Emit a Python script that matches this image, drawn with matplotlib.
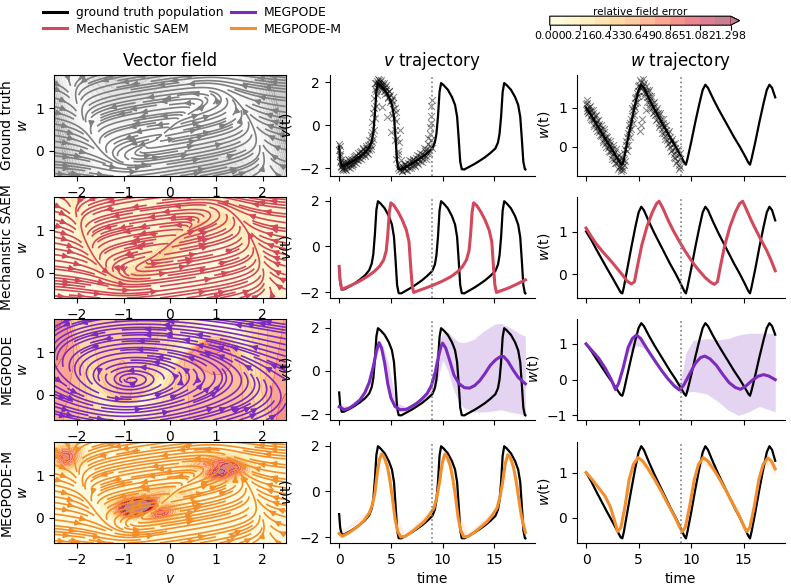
import numpy as np
import matplotlib
matplotlib.use('Agg')
from matplotlib import pyplot as plt
from matplotlib.lines import Line2D

# ---------------- values ----------------
# ground truth population trajectory
t_gt_v = [0.0, 0.1, 0.25, 0.5, 1.0, 1.5, 2.0, 2.5, 2.9, 3.15, 3.3, 3.45, 3.6, 3.75,
          4.0, 4.4, 4.8, 5.1, 5.3, 5.45, 5.6, 5.75, 6.0, 6.5, 7.0, 7.5, 8.0, 8.5,
          9.0, 9.25, 9.4, 9.55, 9.7, 9.85, 10.1, 10.5, 10.9, 11.2, 11.4, 11.55,
          11.7, 11.85, 12.1, 12.6, 13.1, 13.6, 14.1, 14.6, 15.1, 15.35, 15.5,
          15.65, 15.8, 15.95, 16.2, 16.6, 17.0, 17.3, 17.5, 17.65, 17.8, 17.95, 18.0]
gt_v = [-1.00, -1.60, -1.90, -1.88, -1.76, -1.62, -1.46, -1.27, -1.05, -0.75, -0.35,
        0.50, 1.60, 1.97, 1.87, 1.66, 1.32, 0.95, 0.40, -0.60, -1.70, -2.05, -2.06,
        -1.93, -1.80, -1.65, -1.49, -1.30, -1.08, -0.80, -0.40, 0.40, 1.55, 1.97,
        1.87, 1.66, 1.32, 0.95, 0.40, -0.60, -1.70, -2.05, -2.06, -1.93, -1.80,
        -1.65, -1.49, -1.30, -1.08, -0.80, -0.40, 0.40, 1.55, 1.97, 1.87, 1.66,
        1.32, 0.95, 0.40, -0.60, -1.70, -2.05, -2.06]
t_gt_w = [0.0, 0.5, 1.0, 1.5, 2.0, 2.5, 3.0, 3.3, 3.45, 3.6, 3.9, 4.3, 4.7, 5.0, 5.25,
          5.5, 6.0, 6.5, 7.0, 7.5, 8.0, 8.5, 9.0, 9.35, 9.5, 9.65, 10.0, 10.4, 10.8,
          11.1, 11.35, 11.6, 12.1, 12.6, 13.1, 13.6, 14.1, 14.6, 15.1, 15.45, 15.6,
          15.75, 16.1, 16.5, 16.9, 17.2, 17.45, 17.7, 18.0]
gt_w = [1.00, 0.80, 0.57, 0.35, 0.13, -0.08, -0.30, -0.43, -0.45, -0.30, 0.10, 0.62,
        1.12, 1.45, 1.58, 1.50, 1.22, 0.96, 0.72, 0.48, 0.24, 0.02, -0.22, -0.40,
        -0.45, -0.30, 0.12, 0.64, 1.12, 1.45, 1.58, 1.50, 1.22, 0.96, 0.72, 0.48,
        0.24, 0.02, -0.22, -0.40, -0.45, -0.30, 0.12, 0.64, 1.12, 1.45, 1.58, 1.50, 1.26]

# noisy observations of the population (t <= 9), two batches
obs_v_t = [0.00, 0.03, 0.06, 0.09, 0.12, 0.16, 0.20, 0.24, 0.28, 0.33, 0.38, 0.44,
           0.50, 0.57, 0.63, 0.70, 0.76, 0.83, 0.90, 0.97, 1.04, 1.11, 1.18, 1.25,
           1.33, 1.40, 1.48, 1.55, 1.63, 1.70, 1.78, 1.86, 1.93, 2.01, 2.09, 2.17,
           2.25, 2.33, 2.41, 2.49, 2.57, 2.65, 2.73, 2.81, 2.89, 2.96, 3.03, 3.08,
           3.13, 3.18, 3.23, 3.28, 3.33, 3.38, 3.43, 3.48, 3.53, 3.58, 3.63, 3.68,
           3.73, 3.79, 3.85, 3.91, 3.97, 4.04, 4.11, 4.18, 4.25, 4.32, 4.39, 4.46,
           4.53, 4.60, 4.67, 4.74, 4.81, 4.88, 4.95, 5.02, 5.09, 5.16, 5.23, 5.30,
           5.36, 5.42, 5.48, 5.54, 5.60, 5.66, 5.72, 5.78, 5.84, 5.90, 5.97, 6.04,
           6.12, 6.20, 6.28, 6.37, 6.46, 6.55, 6.64, 6.73, 6.82, 6.91, 7.00, 7.09,
           7.18, 7.27, 7.36, 7.45, 7.54, 7.63, 7.72, 7.81, 7.90, 7.99, 8.08, 8.17,
           8.26, 8.35, 8.44, 8.52, 8.60, 8.67, 8.74, 8.80, 8.86, 8.92, 8.97]
obs_v = [-0.85, -1.15, -0.95, -1.45, -1.70, -1.60, -1.95, -1.78, -2.05, -1.85, -1.98,
         -1.72, -1.93, -2.02, -1.76, -1.88, -1.69, -1.95, -1.78, -1.62, -1.86, -1.71,
         -1.58, -1.80, -1.63, -1.49, -1.72, -1.55, -1.38, -1.61, -1.47, -1.30, -1.52,
         -1.40, -1.22, -1.44, -1.30, -1.12, -1.36, -1.18, -1.05, -1.28, -1.08, -0.92,
         -1.15, -0.85, -0.98, -0.45, -0.80, 0.15, -0.62, 0.55, -0.20, 1.25, 0.35,
         1.70, 0.90, 1.95, 1.40, 2.08, 1.85, 1.98, 2.10, 1.82, 2.02, 1.75, 1.95,
         0.85, 1.88, 1.62, 1.80, 1.45, 1.70, 0.40, 1.52, 1.30, 1.58, 1.10, 1.40,
         -0.30, 1.18, 0.75, 1.05, 0.35, 0.80, -0.70, 0.20, -1.55, -0.60, -2.00,
         -1.20, -2.10, -1.90, -0.20, -2.05, -1.88, -2.12, -1.95, -2.03, -1.82, -2.08,
         -1.90, -1.75, -1.98, -1.80, -1.68, -1.90, -1.72, -1.60, -1.83, -1.65, -1.52,
         -1.74, -1.58, -1.42, -1.66, -1.47, -1.33, -1.55, -1.38, -1.20, -1.45, -1.10,
         -1.28, -0.85, -1.15, -0.40, -0.95, 0.45, -0.70, 1.20]
obs_v_t2 = [0.05, 0.15, 0.35, 0.55, 0.65, 0.85, 1.00, 1.20, 1.38, 1.52, 1.67, 1.82,
            1.97, 2.13, 2.29, 2.45, 2.61, 2.77, 2.93, 3.10, 3.20, 3.35, 3.45, 3.55,
            3.65, 3.75, 3.88, 4.00, 4.15, 4.30, 4.45, 4.55, 4.70, 4.85, 5.00, 5.12,
            5.25, 5.40, 5.52, 5.65, 5.80, 5.95, 6.08, 6.25, 6.42, 6.60, 6.78, 6.95,
            7.12, 7.30, 7.48, 7.66, 7.84, 8.02, 8.20, 8.38, 8.55, 8.70, 8.78, 8.83,
            8.90, 8.95]
obs_v2 = [-1.35, -1.90, -2.10, -1.80, -2.08, -1.58, -2.00, -1.92, -1.80, -1.42, -1.75,
          -1.62, -1.25, -1.58, -1.05, -1.45, -0.95, -1.35, -0.70, -1.10, -0.30, 0.80,
          1.95, 1.60, 1.75, 2.15, 1.92, 2.12, 1.68, 1.95, 1.58, 1.90, 1.25, 1.62,
          1.20, 0.50, 1.30, -0.20, 0.60, -1.35, -0.80, -1.60, -2.15, -1.80, -1.92,
          -2.10, -1.62, -1.98, -1.55, -1.92, -1.40, -1.82, -1.28, -1.70, -1.05, -1.55,
          -0.60, -1.30, -0.10, 0.10, 0.90, -1.05]
obs_w_t = [0.00, 0.04, 0.08, 0.13, 0.18, 0.24, 0.30, 0.36, 0.43, 0.50, 0.57, 0.64,
           0.71, 0.78, 0.85, 0.92, 0.99, 1.06, 1.13, 1.20, 1.27, 1.34, 1.41, 1.48,
           1.55, 1.62, 1.69, 1.76, 1.83, 1.90, 1.97, 2.04, 2.11, 2.18, 2.25, 2.32,
           2.39, 2.46, 2.53, 2.60, 2.67, 2.74, 2.81, 2.88, 2.95, 3.02, 3.09, 3.16,
           3.23, 3.30, 3.37, 3.44, 3.51, 3.58, 3.65, 3.72, 3.79, 3.86, 3.93, 4.00,
           4.07, 4.14, 4.21, 4.28, 4.35, 4.42, 4.49, 4.56, 4.63, 4.70, 4.77, 4.84,
           4.91, 4.98, 5.05, 5.12, 5.19, 5.26, 5.33, 5.40, 5.47, 5.54, 5.61, 5.68,
           5.75, 5.82, 5.89, 5.96, 6.03, 6.10, 6.18, 6.26, 6.34, 6.42, 6.50, 6.58,
           6.66, 6.74, 6.82, 6.90, 6.98, 7.06, 7.14, 7.22, 7.30, 7.38, 7.46, 7.54,
           7.62, 7.70, 7.78, 7.86, 7.94, 8.02, 8.10, 8.18, 8.26, 8.34, 8.42, 8.50,
           8.58, 8.66, 8.74, 8.82, 8.90, 8.97]
obs_w = [1.08, 0.92, 1.12, 0.98, 0.85, 1.02, 0.90, 0.76, 0.95, 0.82, 0.68, 0.86,
         0.72, 0.58, 0.78, 0.62, 0.48, 0.66, 0.52, 0.38, 0.58, 0.44, 0.28, 0.47,
         0.33, 0.18, 0.38, 0.22, 0.08, 0.27, 0.12, -0.02, 0.18, 0.03, -0.12, 0.08,
         -0.08, -0.22, -0.02, -0.18, -0.32, -0.12, -0.28, -0.42, -0.22, -0.38, -0.52,
         -0.30, -0.48, -0.55, -0.38, -0.50, -0.32, -0.45, -0.15, -0.35, 0.05, -0.10,
         0.25, 0.05, 0.42, 0.25, 0.60, 0.45, 0.78, 0.62, 0.95, 0.80, 1.12, 0.98,
         1.28, 1.15, 1.42, 1.30, 1.58, 0.40, 1.50, 1.65, 0.70, 1.55, 1.42, 1.62,
         1.38, 0.95, 1.45, 1.28, 1.40, 1.15, 1.30, 1.08, 1.25, 1.00, 1.12, 0.90,
         1.05, 0.80, 0.95, 0.70, 0.85, 0.62, 0.80, 0.55, 0.70, 0.45, 0.60, 0.36,
         0.52, 0.28, 0.44, 0.18, 0.35, 0.10, 0.25, 0.00, 0.16, -0.08, 0.08, -0.18,
         -0.02, -0.28, -0.10, -0.35, -0.20, -0.45, -0.30, -0.50]
obs_w_t2 = [0.06, 0.20, 0.34, 0.48, 0.62, 0.76, 0.90, 1.04, 1.18, 1.32, 1.46, 1.60,
            1.74, 1.88, 2.02, 2.16, 2.30, 2.44, 2.58, 2.72, 2.86, 3.00, 3.14, 3.28,
            3.42, 3.56, 3.70, 3.84, 3.98, 4.12, 4.26, 4.40, 4.54, 4.68, 4.82, 4.96,
            5.10, 5.24, 5.38, 5.52, 5.66, 5.80, 5.94, 6.08, 6.22, 6.36, 6.50, 6.64,
            6.78, 6.92, 7.06, 7.20, 7.34, 7.48, 7.62, 7.76, 7.90, 8.04, 8.18, 8.32,
            8.46, 8.60, 8.74, 8.88, 8.96]
obs_w2 = [1.18, 0.95, 1.05, 0.70, 0.95, 0.52, 0.80, 0.40, 0.68, 0.30, 0.55, 0.12,
          0.45, 0.00, 0.25, -0.10, 0.15, -0.30, 0.05, -0.40, -0.05, -0.55, -0.20,
          -0.62, -0.28, -0.58, -0.05, 0.15, 0.35, 0.55, 0.72, 1.00, 1.05, 1.25, 1.38,
          1.55, 1.70, 0.55, 1.72, 1.30, 1.55, 1.15, 1.45, 0.98, 1.30, 0.85, 1.15,
          0.68, 1.00, 0.50, 0.85, 0.35, 0.70, 0.20, 0.55, 0.08, 0.40, -0.10, 0.20,
          -0.25, 0.10, -0.40, -0.05, -0.55, -0.15]

# Mechanistic SAEM
t_saem_v = [0.0, 0.1, 0.25, 0.6, 1.2, 2.0, 2.8, 3.4, 3.9, 4.3, 4.55, 4.7, 4.85, 5.0,
            5.3, 5.7, 6.1, 6.5, 6.75, 6.9, 7.05, 7.2, 7.6, 8.4, 9.2, 10.0, 10.8,
            11.4, 11.9, 12.3, 12.55, 12.7, 12.85, 13.0, 13.3, 13.7, 14.1, 14.5,
            14.75, 14.9, 15.05, 15.2, 15.6, 16.4, 17.2, 18.0]
saem_v = [-0.88, -1.50, -1.88, -1.82, -1.70, -1.52, -1.30, -1.10, -0.88, -0.60,
          -0.20, 0.50, 1.50, 1.90, 1.78, 1.50, 1.15, 0.70, 0.20, -0.80, -1.70,
          -2.02, -1.95, -1.82, -1.68, -1.52, -1.33, -1.13, -0.90, -0.60, -0.20,
          0.50, 1.50, 1.90, 1.78, 1.50, 1.15, 0.70, 0.20, -0.80, -1.70, -2.02,
          -1.95, -1.82, -1.65, -1.47]
t_saem_w = [0.0, 0.5, 1.0, 1.5, 2.0, 2.5, 3.0, 3.5, 3.9, 4.3, 4.6, 4.9, 5.3, 5.8,
            6.3, 6.7, 6.95, 7.3, 7.8, 8.3, 8.8, 9.3, 9.8, 10.3, 10.8, 11.3, 11.8,
            12.2, 12.5, 12.8, 13.2, 13.7, 14.2, 14.6, 14.9, 15.2, 15.7, 16.2, 16.7,
            17.2, 17.6, 18.0]
saem_w = [1.08, 0.88, 0.70, 0.55, 0.41, 0.27, 0.12, -0.03, -0.16, -0.23, -0.18,
          0.20, 0.68, 1.12, 1.45, 1.65, 1.71, 1.55, 1.27, 1.02, 0.80, 0.59, 0.40,
          0.22, 0.07, -0.07, -0.18, -0.24, -0.18, 0.20, 0.68, 1.12, 1.45, 1.65,
          1.71, 1.55, 1.27, 1.02, 0.78, 0.55, 0.33, 0.08]

# MEGPODE
t_meg_v = [0.0, 0.5, 1.0, 1.5, 2.0, 2.5, 2.9, 3.3, 3.6, 3.85, 4.1, 4.4, 4.7, 5.0,
           5.4, 5.9, 6.5, 7.0, 7.5, 8.0, 8.5, 8.9, 9.3, 9.6, 9.85, 10.0, 10.3,
           10.7, 11.1, 11.6, 12.1, 12.6, 13.1, 13.6, 14.1, 14.6, 15.1, 15.6, 15.9,
           16.3, 16.8, 17.3, 17.7, 18.0]
meg_v = [-1.66, -1.80, -1.72, -1.55, -1.35, -1.00, -0.55, 0.20, 0.90, 1.30, 1.05,
         0.35, -0.60, -1.25, -1.65, -1.80, -1.78, -1.65, -1.50, -1.30, -1.05, -0.70,
         -0.05, 0.65, 1.15, 1.28, 1.05, 0.45, -0.20, -0.60, -0.78, -0.80, -0.68,
         -0.45, -0.12, 0.25, 0.50, 0.66, 0.66, 0.45, 0.05, -0.30, -0.48, -0.60]
t_meg_v_band = [0.0, 1.0, 2.0, 3.0, 3.6, 3.9, 4.3, 4.8, 5.5, 6.5, 7.5, 8.5, 9.0, 9.5,
                10.0, 10.5, 11.0, 11.5, 12.0, 13.0, 14.0, 15.0, 15.6, 16.5, 17.5, 18.0]
meg_v_lo = [-1.75, -1.82, -1.48, -0.60, 0.65, 1.10, 0.40, -0.90, -1.85, -1.88, -1.62,
            -1.25, -1.00, -0.50, 0.50, 0.00, -0.80, -1.35, -1.70, -1.90, -1.90, -1.85,
            -1.80, -1.90, -2.00, -2.05]
meg_v_hi = [-1.58, -1.64, -1.25, -0.20, 1.05, 1.42, 1.10, 0.20, -1.45, -1.68, -1.40,
            -0.90, -0.30, 1.20, 1.75, 1.80, 1.55, 1.35, 1.30, 1.45, 1.85, 2.15, 2.20,
            2.00, 1.70, 1.60]
t_meg_w = [0.0, 0.6, 1.2, 1.8, 2.4, 2.8, 3.1, 3.5, 4.0, 4.4, 4.8, 5.2, 5.8, 6.5, 7.2,
           7.8, 8.4, 8.9, 9.3, 9.8, 10.4, 10.9, 11.3, 11.8, 12.4, 13.0, 13.6, 14.2,
           14.7, 15.2, 15.8, 16.4, 16.9, 17.4, 18.0]
meg_w = [1.00, 0.80, 0.60, 0.33, 0.00, -0.28, -0.10, 0.30, 0.90, 1.15, 1.25, 1.15,
         0.86, 0.55, 0.25, 0.02, -0.18, -0.29, -0.15, 0.13, 0.46, 0.62, 0.66, 0.58,
         0.40, 0.15, -0.08, -0.22, -0.27, -0.18, -0.02, 0.10, 0.14, 0.10, 0.00]
t_meg_w_band = [0.0, 1.0, 2.0, 2.8, 3.5, 4.0, 4.8, 5.5, 6.5, 7.5, 8.5, 9.0, 9.5, 10.2,
                11.5, 12.5, 13.5, 14.5, 15.5, 16.5, 17.5, 18.0]
meg_w_lo = [0.98, 0.62, 0.16, -0.33, 0.20, 0.75, 0.95, 0.90, 0.48, 0.06, -0.26, -0.35,
            -0.35, -0.33, -0.40, -0.60, -0.85, -1.00, -0.90, -0.75, -0.85, -0.90]
meg_w_hi = [1.02, 0.72, 0.28, -0.22, 0.40, 1.05, 1.30, 1.08, 0.60, 0.16, -0.12, -0.05,
            0.75, 1.10, 1.15, 1.12, 1.15, 1.25, 1.30, 1.30, 1.30, 1.30]

# MEGPODE-M
t_megm_v = [0.0, 0.3, 1.0, 1.75, 2.4, 2.9, 3.2, 3.45, 3.7, 3.9, 4.1, 4.35, 4.65, 4.9,
            5.15, 5.4, 5.65, 5.95, 6.4, 7.0, 7.6, 8.2, 8.7, 9.15, 9.45, 9.7, 9.95,
            10.2, 10.45, 10.75, 11.0, 11.25, 11.5, 11.75, 12.05, 12.5, 13.1, 13.7,
            14.3, 14.8, 15.25, 15.55, 15.8, 16.05, 16.3, 16.55, 16.85, 17.1, 17.35,
            17.6, 17.85, 18.0]
megm_v = [-1.85, -1.97, -1.80, -1.56, -1.28, -0.96, -0.60, -0.10, 0.85, 1.40, 1.63,
          1.50, 1.10, 0.50, -0.30, -1.20, -1.75, -2.00, -1.97, -1.78, -1.56, -1.33,
          -1.05, -0.74, -0.25, 0.40, 1.20, 1.62, 1.50, 1.10, 0.50, -0.25, -1.15,
          -1.72, -2.00, -1.97, -1.78, -1.56, -1.33, -1.05, -0.74, -0.25, 0.40, 1.20,
          1.60, 1.48, 1.05, 0.45, -0.30, -1.05, -1.55, -1.80]
t_megm_v_band = [0.0, 3.0, 3.5, 3.9, 4.1, 4.6, 5.0, 5.4, 5.8, 6.3, 9.0, 9.5, 9.95,
                 10.2, 10.7, 11.1, 11.5, 11.9, 12.4, 15.2, 15.6, 16.05, 16.3, 16.8,
                 17.2, 17.6, 18.0]
megm_v_lo = [-1.90, -0.98, -0.15, 1.25, 1.45, 0.95, -0.10, -1.30, -1.95, -2.00, -0.90,
             -0.30, 1.05, 1.45, 0.95, -0.05, -1.25, -1.95, -2.00, -0.85, -0.25, 1.05,
             1.40, 0.95, -0.05, -1.20, -1.85]
megm_v_hi = [-1.80, -0.80, 0.10, 1.45, 1.65, 1.25, 0.55, -0.50, -1.30, -1.85, -0.75,
             0.05, 1.30, 1.65, 1.30, 0.60, -0.50, -1.30, -1.85, -0.70, 0.10, 1.30,
             1.60, 1.30, 0.60, -0.45, -1.40]
t_megm_w = [0.0, 0.6, 1.2, 1.8, 2.3, 2.7, 3.0, 3.3, 3.7, 4.1, 4.5, 4.95, 5.4, 6.0,
            6.6, 7.2, 7.8, 8.4, 8.9, 9.15, 9.45, 9.85, 10.3, 10.7, 11.15, 11.6, 12.2,
            12.8, 13.4, 14.0, 14.6, 15.05, 15.3, 15.6, 16.0, 16.45, 16.85, 17.3,
            17.65, 18.0]
megm_w = [1.00, 0.84, 0.66, 0.48, 0.25, -0.05, -0.30, -0.22, 0.25, 0.85, 1.18, 1.33,
          1.25, 1.05, 0.82, 0.57, 0.30, 0.04, -0.20, -0.30, -0.20, 0.25, 0.85, 1.18,
          1.33, 1.25, 1.05, 0.82, 0.57, 0.30, 0.04, -0.20, -0.30, -0.20, 0.25, 0.85,
          1.18, 1.32, 1.25, 1.08]
t_megm_w_band = [0.0, 3.0, 3.7, 4.5, 4.95, 5.4, 6.0, 8.9, 9.15, 9.85, 10.7, 11.15,
                 11.6, 12.2, 15.05, 15.3, 16.0, 16.85, 17.3, 17.65, 18.0]
megm_w_lo = [0.98, -0.33, 0.18, 1.05, 1.20, 1.12, 0.98, -0.22, -0.33, 0.18, 1.05,
             1.20, 1.12, 0.98, -0.22, -0.33, 0.18, 1.05, 1.18, 1.10, 0.95]
megm_w_hi = [1.02, -0.27, 0.28, 1.20, 1.35, 1.27, 1.07, -0.17, -0.27, 0.28, 1.20,
             1.35, 1.27, 1.07, -0.17, -0.27, 0.28, 1.20, 1.34, 1.27, 1.10]

T_OBS_END = 9.0
ERR_MAX = 1.298

# FitzHugh-Nagumo parameters (I, a, b, tau, c) for the drawn vector fields
gt_params = (0.55, 0.5, 0.8, 2.5, 2.0)
saem_params = (0.70, 0.58, 0.74, 2.9, 1.8)
megm_params = (0.53, 0.50, 0.8, 2.6, 2.0)
# MEGPODE-M local speed deviations: centre v, centre w, gain, width v, width w
megm_bumps = [(1.05, 1.15, 3.5, 0.5, 0.25), (-2.2, 1.45, 1.5, 0.3, 0.3),
              (-0.55, 0.2, 4.0, 0.55, 0.25), (0.1, 0.6, 1.2, 0.45, 0.15)]

row_names = ['Ground truth', 'Mechanistic SAEM', 'MEGPODE', 'MEGPODE-M']
colors = ['black', '#d1495b', '#7b2cbf', '#f28e2b']
stream_colors = ['#7f7f7f', '#d1495b', '#7b2cbf', '#f28e2b']


def fhn(v, w, params):
    i_ext, a, b, tau, c = params
    return c * (v - v ** 3 / 3 - w + i_ext), (v + a - b * w) / tau


def megpode_field(v, w):
    # learned field: slow damped spiral, stretched towards positive v
    sv = -2.2 * (w - 0.42) - 0.15 * (v + 0.9)
    sw = 0.6 * (v + 0.9) / (1 + 0.6 * np.maximum(v + 0.9, 0)) - 0.05 * (w - 0.42)
    gv, gw = fhn(v, w, gt_params)
    return 0.3 * sv + 0.05 * gv, 0.3 * sw + 0.05 * gw


def megpode_m_field(v, w):
    dv, dw = fhn(v, w, megm_params)
    gain = np.ones_like(v)
    for cv, cw, g, sv, sw in megm_bumps:
        gain = gain + g * np.exp(-((v - cv) / sv) ** 2 - ((w - cw) / sw) ** 2)
    return dv * gain, dw * gain


vv, ww = np.meshgrid(np.linspace(-2.5, 2.5, 160), np.linspace(-0.6, 1.8, 100))
gdv, gdw = fhn(vv, ww, gt_params)
gspeed = np.hypot(gdv, gdw)
fields = [(gdv, gdw), fhn(vv, ww, saem_params), megpode_field(vv, ww),
          megpode_m_field(vv, ww)]

traj = [
    None,
    ((t_saem_v, saem_v, None), (t_saem_w, saem_w, None)),
    ((t_meg_v, meg_v, (t_meg_v_band, meg_v_lo, meg_v_hi)),
     (t_meg_w, meg_w, (t_meg_w_band, meg_w_lo, meg_w_hi))),
    ((t_megm_v, megm_v, (t_megm_v_band, megm_v_lo, megm_v_hi)),
     (t_megm_w, megm_w, (t_megm_w_band, megm_w_lo, megm_w_hi))),
]

fig = plt.figure(figsize=(7.91, 5.86), dpi=100)
lefts = [0.0683, 0.417, 0.729]
widths = [0.293, 0.259, 0.263]
bottoms = [0.6997, 0.4915, 0.2833, 0.0734]
height = 0.173

levels = np.linspace(0, ERR_MAX, 13)
err_cs = None
for r in range(4):
    ax = fig.add_axes([lefts[0], bottoms[r], widths[0], height])
    dv, dw = fields[r]
    if r == 0:
        ax.contourf(vv, ww, np.clip(gspeed, 0, 5), levels=12, cmap='Greys',
                    alpha=0.2)
    else:
        err = np.hypot(dv - gdv, dw - gdw) / (gspeed + 0.5)
        cs = ax.contourf(vv, ww, err, levels=levels, cmap='YlOrRd', alpha=0.5,
                         extend='max')
        if err_cs is None:
            err_cs = cs
    ax.streamplot(vv, ww, dv, dw, color=stream_colors[r], density=1.2,
                  linewidth=1.2, arrowsize=0.8)
    ax.set_xlim(-2.5, 2.5)
    ax.set_ylim(-0.6, 1.8)
    ax.set_ylabel(row_names[r] + '\n$w$')
    if r == 0:
        ax.set_title('Vector field', fontsize=12)
    if r == 3:
        ax.set_xlabel('$v$')

    for c in (1, 2):
        ax2 = fig.add_axes([lefts[c], bottoms[r], widths[c], height])
        ax2.spines['top'].set_visible(False)
        ax2.spines['right'].set_visible(False)
        if c == 1:
            t_gt, y_gt = t_gt_v, gt_v
            obs = [(obs_v_t, obs_v), (obs_v_t2, obs_v2)]
            ax2.set_ylabel('$v$(t)')
            if r == 0:
                ax2.set_title('$v$ trajectory', fontsize=12)
        else:
            t_gt, y_gt = t_gt_w, gt_w
            obs = [(obs_w_t, obs_w), (obs_w_t2, obs_w2)]
            ax2.set_ylabel('$w$(t)')
            if r == 0:
                ax2.set_title('$w$ trajectory', fontsize=12)
        if r == 0:
            for t_obs, y_obs in obs:
                ax2.scatter(t_obs, y_obs, marker='x', color='k', alpha=0.45,
                            s=24, linewidths=0.8)
            ax2.plot(t_gt, y_gt, color='k', lw=1.6)
        else:
            t_m, y_m, band = traj[r][c - 1]
            if band is not None:
                ax2.fill_between(band[0], band[1], band[2], color=colors[r],
                                 alpha=0.2 if r == 2 else 0.15, lw=0)
            ax2.plot(t_gt, y_gt, color='k', lw=1.6)
            ax2.plot(t_m, y_m, color=colors[r], lw=2.2)
        ax2.axvline(T_OBS_END, color='grey', ls=':', lw=1.2)
        ax2.set_xticks([0, 5, 10, 15])
        if r < 3:
            ax2.tick_params(labelbottom=False)
        else:
            ax2.set_xlabel('time')

handles = [Line2D([], [], color=c, lw=2.2) for c in colors]
fig.legend(handles, ['ground truth population', 'Mechanistic SAEM', 'MEGPODE',
                     'MEGPODE-M'], ncol=2, loc='upper left',
           bbox_to_anchor=(0.04, 1.008), frameon=False, fontsize=8.9,
           handlelength=1.95, handletextpad=0.7, columnspacing=0.65,
           labelspacing=0.25)

cax = fig.add_axes([0.695, 0.957, 0.24, 0.0154])
cb = fig.colorbar(err_cs, cax=cax, orientation='horizontal',
                  ticks=np.linspace(0, ERR_MAX, 7), format='%.3f')
cb.ax.tick_params(labelsize=8, pad=1)
cb.set_label('relative field error', fontsize=7.5, labelpad=1)
cax.xaxis.set_label_position('top')

fig.savefig('out.png', dpi=100)
